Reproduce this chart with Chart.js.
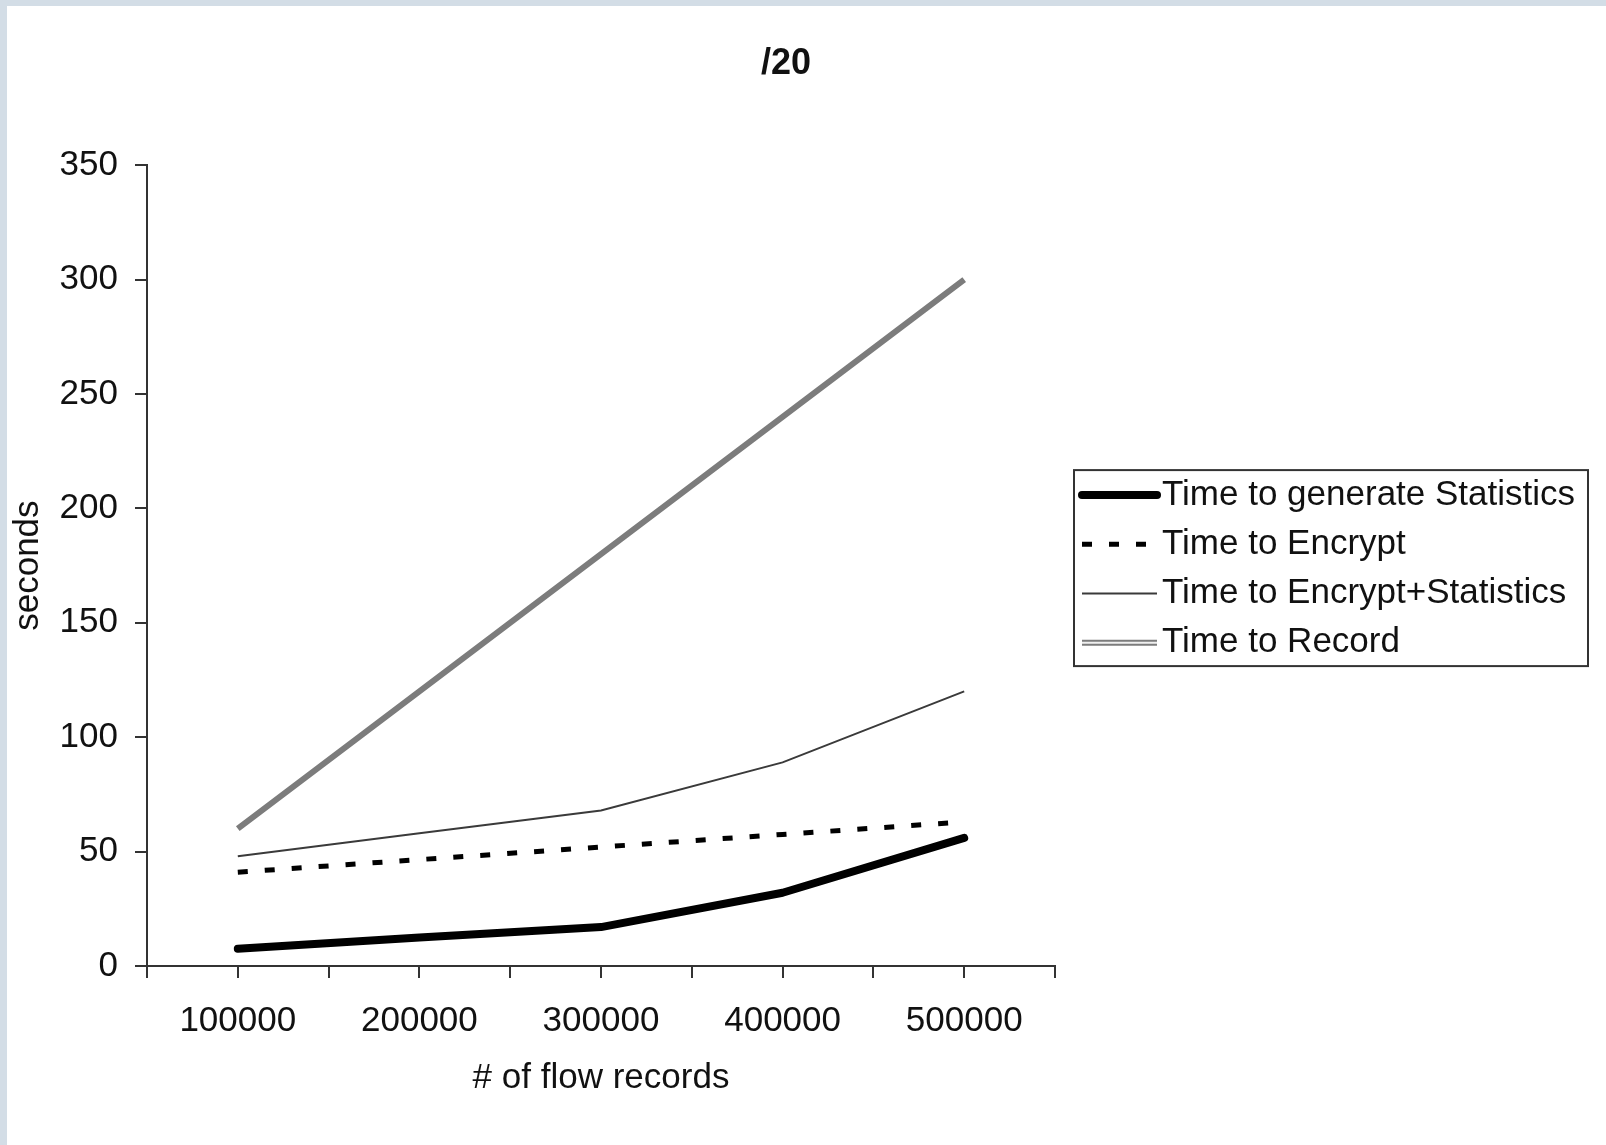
<!DOCTYPE html>
<html>
<head>
<meta charset="utf-8">
<title>/20</title>
<script src="https://cdn.jsdelivr.net/npm/chart.js@4.4.1/dist/chart.umd.min.js"></script>
<style>
    html, body { margin: 0; padding: 0; }
    body { background: #d3dde6; width: 1606px; height: 1145px; overflow: hidden; position: relative; }
    #wrap { position: absolute; left: 7px; top: 6px; width: 1599px; height: 1139px; background: #fff; }
</style>
</head>
<body>
<div id="wrap"><canvas id="chart" width="1599" height="1139"></canvas></div>
<script>
// Data
const flowRecords = [100000, 200000, 300000, 400000, 500000];
const timeGenerateStats = [7.5, 12.5, 17, 32, 56];
const timeEncrypt = [41, 46.5, 52, 57.5, 63];
const timeEncryptStats = [48, 58, 68, 89, 120];
const timeRecord = [60, 120, 180, 240, 300];

const FONT = "'Liberation Sans', Arial, sans-serif";
const TEXT = '#111';
const AXIS = '#333';

Chart.defaults.font.family = FONT;
Chart.defaults.color = TEXT;

// pair x values with a series
function points(values) {
    return flowRecords.map((x, i) => ({ x: x, y: values[i] }));
}

// Stroke one legend sample with a dataset's line style
function drawSample(ctx, ds, x1, x2, y) {
    ctx.save();
    ctx.strokeStyle = ds.borderColor;
    ctx.lineWidth = ds.borderWidth;
    ctx.lineCap = ds.borderCapStyle || 'butt';
    ctx.setLineDash(ds.borderDash || []);
    ctx.beginPath();
    ctx.moveTo(x1, y);
    ctx.lineTo(x2, y);
    ctx.stroke();
    ctx.restore();
}

// Framed legend to the right of the plot
const legendFrame = {
    id: 'legendFrame',
    afterDraw(chart) {
        const { ctx, chartArea } = chart;
        const left = chartArea.right + 19;
        const width = 514;
        const height = 196;
        const top = (chartArea.top + chartArea.bottom) / 2 - 95.5;
        const rowH = 49.2;

        ctx.save();
        ctx.strokeStyle = AXIS;
        ctx.lineWidth = 2;
        ctx.strokeRect(left, top, width, height);

        ctx.font = '35px ' + FONT;
        ctx.textBaseline = 'middle';
        ctx.textAlign = 'left';
        ctx.fillStyle = TEXT;

        const labels = [...new Set(chart.data.datasets.map(d => d.label))];
        labels.forEach((label, i) => {
            const y = top + 25 + i * rowH;
            chart.data.datasets
                .filter(d => d.label === label)
                .forEach(ds => drawSample(ctx, ds, left + 8, left + 83, y));
            ctx.fillText(label, left + 88, y);
        });
        ctx.restore();
    }
};

const tickGrid = {
    display: true,
    drawOnChartArea: false,
    drawTicks: true,
    tickLength: 12,
    color: AXIS,
    lineWidth: 2
};

new Chart(document.getElementById('chart'), {
    type: 'line',
    data: {
        datasets: [
            {
                label: 'Time to generate Statistics',
                data: points(timeGenerateStats),
                borderColor: '#000',
                borderWidth: 8,
                borderCapStyle: 'round',
                borderJoinStyle: 'round'
            },
            {
                label: 'Time to Encrypt',
                data: points(timeEncrypt),
                borderColor: '#000',
                borderWidth: 5,
                borderDash: [10, 17]
            },
            {
                label: 'Time to Encrypt+Statistics',
                data: points(timeEncryptStats),
                borderColor: '#3a3a3a',
                borderWidth: 2
            },
            {
                label: 'Time to Record',
                data: points(timeRecord),
                borderColor: '#7c7c7c',
                borderWidth: 6
            },
            {
                // light centre of the double line
                label: 'Time to Record',
                data: points(timeRecord),
                borderColor: '#f0f0f0',
                borderWidth: 2
            }
        ].map(ds => Object.assign({
            xAxisID: 'x',
            yAxisID: 'y',
            pointRadius: 0,
            tension: 0,
            fill: false
        }, ds))
    },
    options: {
        responsive: false,
        animation: false,
        layout: { padding: { left: 0, right: 41, top: 0, bottom: 0 } },
        plugins: {
            legend: { display: false },
            tooltip: { enabled: false },
            title: {
                display: true,
                text: '/20',
                color: TEXT,
                font: { size: 36, weight: 'bold' },
                padding: { top: 36, bottom: 80 }
            }
        },
        scales: {
            x: {
                type: 'linear',
                min: 50000,
                max: 550000,
                ticks: {
                    stepSize: 50000,
                    autoSkip: false,
                    maxRotation: 0,
                    padding: 22,
                    color: TEXT,
                    font: { size: 35 },
                    callback: v => (v % 100000 === 0 ? String(v) : '')
                },
                grid: tickGrid,
                border: { display: true, color: AXIS, width: 2 },
                title: {
                    display: true,
                    text: '# of flow records',
                    color: TEXT,
                    font: { size: 35 },
                    padding: { top: 0, bottom: 46 }
                },
                afterFit: scale => { scale.height = 179; }
            },
            y: {
                type: 'linear',
                min: 0,
                max: 350,
                ticks: {
                    stepSize: 50,
                    padding: 17,
                    color: TEXT,
                    font: { size: 35 }
                },
                grid: tickGrid,
                border: { display: true, color: AXIS, width: 2 },
                title: {
                    display: true,
                    text: 'seconds',
                    color: TEXT,
                    font: { size: 35 },
                    padding: { top: 0, bottom: 0 }
                },
                afterFit: scale => { scale.width = 140; }
            },
            // empty axis that keeps room for the legend frame
            legendSpace: {
                type: 'linear',
                position: 'right',
                display: true,
                grid: { display: false },
                border: { display: false },
                ticks: { display: false },
                afterFit: scale => { scale.width = 510; }
            }
        }
    },
    plugins: [legendFrame]
});
</script>
</body>
</html>
